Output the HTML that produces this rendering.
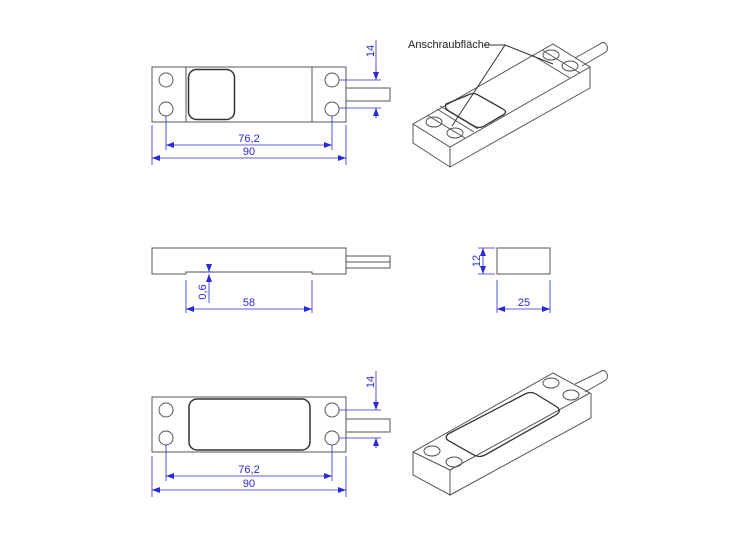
<!DOCTYPE html>
<html><head><meta charset="utf-8"><style>
html,body{margin:0;padding:0;background:#fff;}
svg{display:block;}
text{font-family:"Liberation Sans",sans-serif;font-size:11px;}
.b{fill:#2a2ad8;}
</style></head><body>
<svg width="752" height="550" viewBox="0 0 752 550" xmlns="http://www.w3.org/2000/svg">
<defs>
<marker id="a" markerWidth="8" markerHeight="6" refX="8" refY="3" orient="auto-start-reverse" markerUnits="userSpaceOnUse"><path d="M0,0 L8,3 L0,6 Z" fill="#2a2ad8"/></marker>
</defs>
<rect width="752" height="550" fill="#fff"/>
<g fill="none" stroke="#555" stroke-width="1">
<!-- top view 1 -->
<rect x="152" y="67" width="194" height="55"/>
<line x1="186" y1="67" x2="186" y2="122"/><line x1="312" y1="67" x2="312" y2="122"/>
<circle cx="166" cy="80" r="7"/><circle cx="166" cy="109" r="7"/>
<circle cx="332" cy="80" r="7"/><circle cx="332" cy="109" r="7"/>
<rect x="188.5" y="69.5" width="46" height="50" rx="8" stroke="#333" stroke-width="1.5"/>
<rect x="346" y="88" width="44" height="13"/>
<!-- side view -->
<path d="M152,248 H346 V274 H312 V272 H186 V274 H152 Z"/>
<path d="M346,256 H390 V268 H346 M346,262 H390"/>
<!-- end view -->
<rect x="497" y="248" width="53" height="26"/>
<!-- bottom view -->
<rect x="152" y="397" width="194" height="55"/>
<circle cx="166" cy="410" r="7"/><circle cx="166" cy="438" r="7"/>
<circle cx="332" cy="410" r="7"/><circle cx="332" cy="438" r="7"/>
<rect x="189" y="399" width="121" height="51" rx="8" stroke="#333" stroke-width="1.5"/>
<rect x="346" y="419" width="44" height="13"/>
<!-- iso 1 -->
<path d="M413,124 L450,147 L590,67 L553,44 Z"/>
<path d="M413,124 V143 L450,167 V147 M450,167 L590,88 V67"/>
<path d="M575,58 L600,44 A4,5 0 0 1 606,52 L582,66"/>
<path d="M427,115 L465,138 M437,109 L474,132 M440,106 L478,129 M532,55 L570,78 M542,50 L580,73"/>
<ellipse cx="434" cy="122" rx="8" ry="5"/><ellipse cx="455" cy="133" rx="8" ry="5"/>
<ellipse cx="551" cy="55" rx="8" ry="5"/><ellipse cx="570" cy="66" rx="8" ry="5"/>
<path d="M446,104 Q444,108 449,111 L474,126 Q479,129 484,126 L503,115 Q508,112 503,109 L478,95 Q473,92 468,95 Z" stroke="#333" stroke-width="1.3"/>
<path d="M484,45 L505,45 L452,126 M505,45 L553,64" stroke="#333"/>
<!-- iso 2 -->
<path d="M413,452 L450,470 L590,393 L553,373 Z"/>
<path d="M413,452 V475 L450,495 V470 M450,495 L591,418 V393"/>
<path d="M575,384 L600,372 A4,5 0 0 1 606,380 L585,392"/>
<ellipse cx="432" cy="451" rx="8" ry="5"/><ellipse cx="454" cy="462" rx="8" ry="5"/>
<ellipse cx="551" cy="383" rx="8" ry="5"/><ellipse cx="571" cy="395" rx="8" ry="5"/>
<path d="M448,434 Q444,438 449,441 L474,455 Q479,458 485,455 L556,415 Q562,411 557,407 L536,394 Q531,391 525,394 Z" stroke="#333" stroke-width="1.3"/>
</g>
<g stroke="#2a2ad8" stroke-width="0.8" fill="none">
<path d="M339,80 H381 M339,108 H381 M376,40 V80 M376,108 V118"/>
<line x1="376" y1="70" x2="376" y2="80" marker-end="url(#a)"/>
<line x1="376" y1="118" x2="376" y2="108" marker-end="url(#a)"/>
<path d="M166,116 V150 M332,116 V150 M152,125 V165 M346,125 V165"/>
<line x1="166" y1="145" x2="332" y2="145" marker-start="url(#a)" marker-end="url(#a)"/>
<line x1="152" y1="158" x2="346" y2="158" marker-start="url(#a)" marker-end="url(#a)"/>
<path d="M186,280 V313 M312,280 V313 M200,272 H214"/>
<line x1="209" y1="264" x2="209" y2="272" marker-end="url(#a)"/>
<line x1="209" y1="282" x2="209" y2="274" marker-end="url(#a)"/>
<line x1="209" y1="282" x2="209" y2="303"/>
<line x1="186" y1="309" x2="312" y2="309" marker-start="url(#a)" marker-end="url(#a)"/>
<path d="M478,248 H495 M478,274 H495 M497,280 V313 M550,280 V313"/>
<line x1="483" y1="248" x2="483" y2="274" marker-start="url(#a)" marker-end="url(#a)"/>
<line x1="497" y1="309" x2="550" y2="309" marker-start="url(#a)" marker-end="url(#a)"/>
<path d="M339,410 H381 M339,438 H381 M376,371 V410 M376,438 V448"/>
<line x1="376" y1="400" x2="376" y2="410" marker-end="url(#a)"/>
<line x1="376" y1="448" x2="376" y2="438" marker-end="url(#a)"/>
<path d="M166,445 V481 M332,445 V481 M152,456 V497 M346,456 V497"/>
<line x1="166" y1="476" x2="332" y2="476" marker-start="url(#a)" marker-end="url(#a)"/>
<line x1="152" y1="490" x2="346" y2="490" marker-start="url(#a)" marker-end="url(#a)"/>
</g>
<g class="b">
<text x="249" y="142" text-anchor="middle">76,2</text>
<text x="249" y="155" text-anchor="middle">90</text>
<text transform="translate(374,51) rotate(-90)" text-anchor="middle">14</text>
<text transform="translate(206,292) rotate(-90)" text-anchor="middle">0,6</text>
<text x="249" y="306" text-anchor="middle">58</text>
<text transform="translate(480,261) rotate(-90)" text-anchor="middle">12</text>
<text x="524" y="306" text-anchor="middle">25</text>
<text transform="translate(374,382) rotate(-90)" text-anchor="middle">14</text>
<text x="249" y="473" text-anchor="middle">76,2</text>
<text x="249" y="487" text-anchor="middle">90</text>
</g>
<text x="408" y="48" fill="#222" font-size="10.5">Anschraubfläche</text>
</svg>
</body></html>
